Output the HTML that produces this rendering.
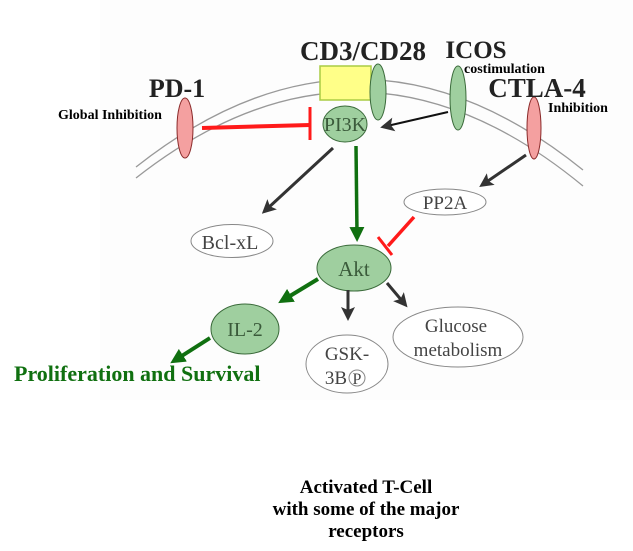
<!DOCTYPE html>
<html><head><meta charset="utf-8"><style>
html,body{margin:0;padding:0;background:#fff;}
svg{display:block}
</style></head><body>
<svg width="633" height="551" viewBox="0 0 633 551" xmlns="http://www.w3.org/2000/svg" font-family="Liberation Serif, serif">
<defs>
<marker id="ab" markerWidth="14" markerHeight="14" refX="7" refY="7" orient="auto" markerUnits="userSpaceOnUse" viewBox="0 0 14 14">
<path d="M0,0 L14,7 L0,14 L3,7 Z" fill="#333"/></marker>
<marker id="ag" markerWidth="15" markerHeight="15" refX="7" refY="7.5" orient="auto" markerUnits="userSpaceOnUse" viewBox="0 0 15 15">
<path d="M0,0 L15,7.5 L0,15 Z" fill="#107010"/></marker>
</defs>
<rect x="100" y="0" width="533" height="400" fill="#fdfdfd"/>
<path d="M136,167 Q360,-10 583,170" fill="none" stroke="#999" stroke-width="1.3"/>
<path d="M136,178 Q360,2 583,186" fill="none" stroke="#999" stroke-width="1.3"/>
<ellipse cx="185" cy="128" rx="8" ry="30" fill="#f4a0a0" stroke="#8a2a2a" stroke-width="1"/>
<ellipse cx="534" cy="128" rx="7" ry="31" fill="#f4a0a0" stroke="#8a2a2a" stroke-width="1"/>
<rect x="320" y="66" width="51" height="34" fill="#ffff88" stroke="#aacc44" stroke-width="1.5"/>
<ellipse cx="378" cy="92" rx="8" ry="28" fill="#9fcf9f" stroke="#3a6a3a" stroke-width="1"/>
<ellipse cx="458" cy="98" rx="8" ry="32" fill="#9fcf9f" stroke="#3a6a3a" stroke-width="1"/>
<ellipse cx="345" cy="124" rx="22" ry="18" fill="#9fcf9f" stroke="#3a6a3a" stroke-width="1"/>
<text x="345" y="131" font-size="20" text-anchor="middle" fill="#3a5a3a">PI3K</text>
<line x1="202" y1="128" x2="310" y2="125" stroke="#ff1a1a" stroke-width="4"/>
<line x1="310" y1="107" x2="310" y2="140" stroke="#ff1a1a" stroke-width="3"/>
<line x1="448" y1="112" x2="387" y2="126" stroke="#111" stroke-width="2" marker-end="url(#ab)"/>
<line x1="333" y1="148" x2="267" y2="209" stroke="#333" stroke-width="3" marker-end="url(#ab)"/>
<line x1="356" y1="146" x2="357" y2="234" stroke="#107010" stroke-width="3.5" marker-end="url(#ag)"/>
<line x1="526" y1="155" x2="485" y2="183" stroke="#333" stroke-width="3" marker-end="url(#ab)"/>
<line x1="414" y1="217" x2="388" y2="246" stroke="#ff1a1a" stroke-width="3.5"/>
<line x1="378" y1="237" x2="392" y2="255" stroke="#ff1a1a" stroke-width="3"/>
<ellipse cx="232" cy="241" rx="41" ry="16.5" fill="#fff" stroke="#888" stroke-width="1"/>
<text x="230" y="249" font-size="20" text-anchor="middle" fill="#444">Bcl-xL</text>
<ellipse cx="445" cy="202" rx="41" ry="13" fill="#fff" stroke="#888" stroke-width="1"/>
<text x="445" y="209" font-size="19" text-anchor="middle" fill="#444">PP2A</text>
<ellipse cx="354" cy="268" rx="37" ry="23" fill="#9fcf9f" stroke="#3a6a3a" stroke-width="1"/>
<text x="354" y="276" font-size="21" text-anchor="middle" fill="#3a5a3a">Akt</text>
<line x1="318" y1="279" x2="285" y2="299" stroke="#107010" stroke-width="4" marker-end="url(#ag)"/>
<line x1="348" y1="290" x2="348" y2="314" stroke="#333" stroke-width="3" marker-end="url(#ab)"/>
<line x1="387" y1="283" x2="403" y2="302" stroke="#333" stroke-width="3" marker-end="url(#ab)"/>
<ellipse cx="245" cy="329" rx="34" ry="25" fill="#9fcf9f" stroke="#3a6a3a" stroke-width="1"/>
<text x="245" y="336" font-size="20" text-anchor="middle" fill="#3a5a3a">IL-2</text>
<ellipse cx="347" cy="364" rx="41" ry="29" fill="#fff" stroke="#888" stroke-width="1"/>
<text x="347" y="360" font-size="19" text-anchor="middle" fill="#444">GSK-</text>
<text x="336" y="384" font-size="19" text-anchor="middle" fill="#444">3B</text>
<circle cx="357" cy="378" r="8" fill="none" stroke="#888" stroke-width="1"/>
<text x="357" y="384" font-size="16" text-anchor="middle" fill="#444">P</text>
<ellipse cx="458" cy="337" rx="65" ry="30" fill="#fff" stroke="#888" stroke-width="1"/>
<text x="456" y="332" font-size="19" text-anchor="middle" fill="#444">Glucose</text>
<text x="458" y="356" font-size="19" text-anchor="middle" fill="#444">metabolism</text>
<line x1="210" y1="338" x2="177" y2="359" stroke="#107010" stroke-width="4" marker-end="url(#ag)"/>
<text x="14" y="381" font-size="22" font-weight="bold" fill="#107010">Proliferation and Survival</text>
<text x="363" y="60" font-size="27" font-weight="bold" text-anchor="middle" fill="#222">CD3/CD28</text>
<text x="476" y="58" font-size="25" font-weight="bold" text-anchor="middle" fill="#222">ICOS</text>
<text x="464" y="73" font-size="14" font-weight="bold" fill="#000">costimulation</text>
<text x="177" y="97" font-size="26" font-weight="bold" text-anchor="middle" fill="#222">PD-1</text>
<text x="537" y="97" font-size="27" font-weight="bold" text-anchor="middle" fill="#222">CTLA-4</text>
<text x="58" y="119" font-size="14" font-weight="bold" fill="#000">Global Inhibition</text>
<text x="548" y="112" font-size="14" font-weight="bold" fill="#000">Inhibition</text>
<text x="366" y="493" font-size="19" font-weight="bold" text-anchor="middle" fill="#000">Activated T-Cell</text>
<text x="366" y="515" font-size="19" font-weight="bold" text-anchor="middle" fill="#000">with some of the major</text>
<text x="366" y="537" font-size="19" font-weight="bold" text-anchor="middle" fill="#000">receptors</text>
</svg>
</body></html>
